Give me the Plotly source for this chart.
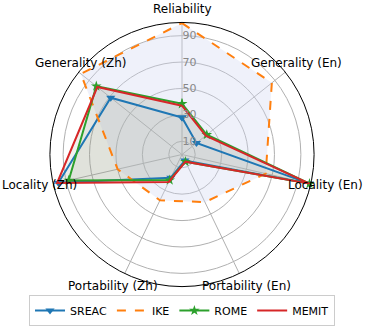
import plotly.graph_objects as go

categories = ["Reliability", "Generality (En)", "Locality (En)", "Portability (En)",
              "Portability (Zh)", "Locality (Zh)", "Generality (Zh)"]
SREAC = [28, 14, 99, 5, 19.5, 96, 69]
IKE = [99.5, 87, 65, 40, 38.5, 50, 98]
ROME = [38.5, 24, 99, 6, 21.5, 88, 83]
MEMIT = [37, 23, 99, 6, 23, 97, 82]
radial_ticks = [10, 30, 50, 70, 90]

series = [
    ("SREAC", SREAC, "#1f77b4", "solid", "triangle-down", "rgba(150,155,140,0.05)"),
    ("IKE", IKE, "#ff7f0e", "dash", None, "rgba(210,215,240,0.35)"),
    ("ROME", ROME, "#2ca02c", "solid", "star", "rgba(150,158,135,0.13)"),
    ("MEMIT", MEMIT, "#d62728", "solid", None, "rgba(150,158,135,0.13)"),
]

fig = go.Figure()
theta = categories + categories[:1]
for name, vals, color, dash, sym, fill in series:
    r = vals + vals[:1]
    fig.add_trace(go.Scatterpolar(r=r, theta=theta, mode="none", fill="toself",
                                  fillcolor=fill, showlegend=False, hoverinfo="skip"))
for name, vals, color, dash, sym, fill in series:
    r = vals + vals[:1]
    mode = "lines+markers" if sym else "lines"
    fig.add_trace(go.Scatterpolar(
        r=r, theta=theta, mode=mode, name=name,
        line=dict(color=color, width=2, dash=dash),
        marker=dict(symbol=sym or "circle", size=8, color=color),
    ))

W, H = 365, 326
cx, cy, rad = 182, 155, 132.5
fig.update_layout(
    width=W, height=H,
    margin=dict(l=0, r=0, t=0, b=0),
    paper_bgcolor="white",
    font=dict(family="DejaVu Sans", size=11, color="black"),
    polar=dict(
        domain=dict(x=[(cx - rad) / W, (cx + rad) / W],
                    y=[1 - (cy + rad) / H, 1 - (cy - rad) / H]),
        bgcolor="white",
        angularaxis=dict(rotation=90, direction="clockwise", showticklabels=False,
                         ticks="", showline=True, linecolor="black", linewidth=1,
                         gridcolor="#b0b0b0", gridwidth=1),
        radialaxis=dict(range=[0, 100], tickvals=radial_ticks, angle=90,
                        tickangle=90, side="clockwise", showline=False, ticks="",
                        gridcolor="#b0b0b0", gridwidth=1,
                        tickfont=dict(size=11, color="#888888")),
    ),
    legend=dict(orientation="h", x=182 / W, xanchor="center",
                y=1 - 327 / H, yanchor="bottom",
                bordercolor="#cccccc", borderwidth=1, font=dict(size=11),
                bgcolor="white"),
)

label_pos = [(182, 9), (296, 63), (325, 186), (246, 287), (113, 287), (39, 186), (80, 63)]
for txt, (px, py) in zip(categories, label_pos):
    fig.add_annotation(text=txt, x=px / W, y=1 - py / H,
                       xref="paper", yref="paper",
                       showarrow=False, xanchor="center", yanchor="middle",
                       font=dict(size=12, color="black"))

fig.write_html("out.html", config={"displayModeBar": False},
               post_script="document.body.style.margin='0';document.body.style.padding='0';")
